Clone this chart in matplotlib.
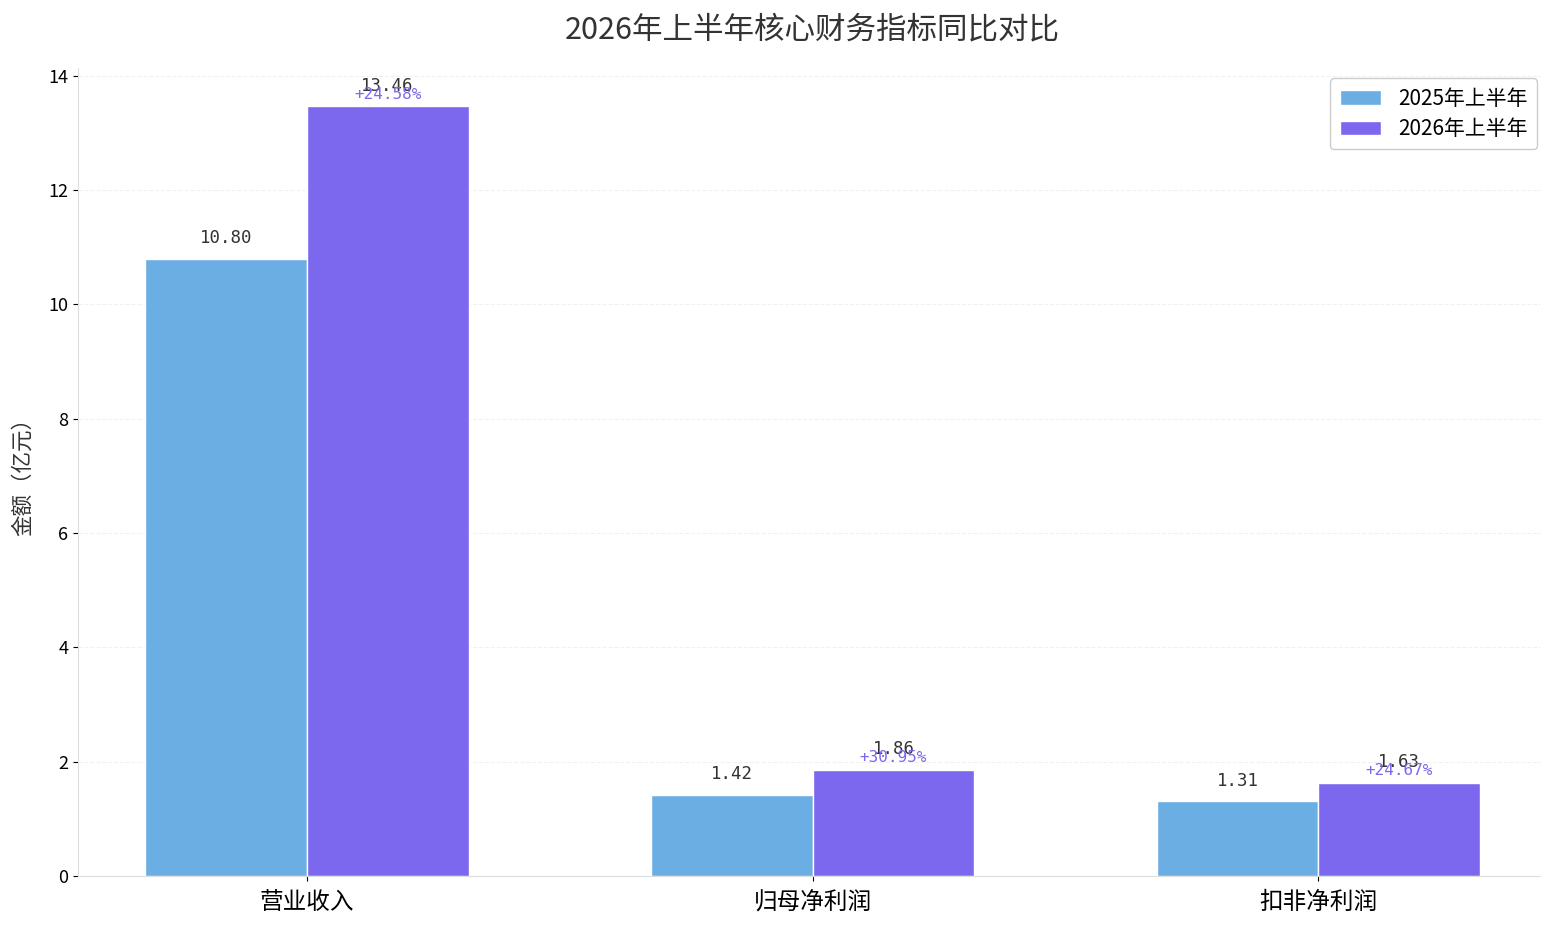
import numpy as np
import matplotlib
matplotlib.use('Agg')
import matplotlib.pyplot as plt

plt.rcParams['font.family'] = ['Noto Sans CJK SC', 'DejaVu Sans']
plt.rcParams['axes.unicode_minus'] = False

categories = ['营业收入', '归母净利润', '扣非净利润']
h1_2025 = [10.80, 1.42, 1.31]
h1_2026 = [13.46, 1.86, 1.63]
growth = ['+24.58%', '+30.95%', '+24.67%']
series_names = ['2025年上半年', '2026年上半年']

c_2025 = '#6aaee3'
c_2026 = '#7b68ee'
num_font = ['DejaVu Sans Mono', 'Noto Sans CJK SC']

fig, ax = plt.subplots(figsize=(15.41, 9.26), dpi=100)
x = np.arange(len(categories))
w = 0.32

b1 = ax.bar(x - w / 2, h1_2025, w, color=c_2025, edgecolor='white', linewidth=1, label=series_names[0])
b2 = ax.bar(x + w / 2, h1_2026, w, color=c_2026, edgecolor='white', linewidth=1, label=series_names[1])

# value labels
for rect, v in zip(b1, h1_2025):
    ax.text(rect.get_x() + rect.get_width() / 2, v + 0.2, f'{v:.2f}',
            ha='center', va='bottom', fontsize=12.5, color='#333333', family=num_font)
for rect, v, g in zip(b2, h1_2026, growth):
    cx = rect.get_x() + rect.get_width() / 2
    ax.text(cx, v + 0.2, f'{v:.2f}', ha='center', va='bottom', fontsize=12.5,
            color='#333333', family=num_font)
    # growth rate
    ax.text(cx, v + 0.08, g, ha='center', va='bottom', fontsize=11.5,
            color=c_2026, family=num_font)

ax.set_ylim(0, max(h1_2026) * 1.05)
ax.set_xticks(x)
ax.set_xticklabels(categories, fontsize=17)
ax.tick_params(axis='x', pad=7)
ax.tick_params(axis='y', labelsize=13)
ax.set_ylabel('金额（亿元）', fontsize=15.5, color='#333333', labelpad=10)
ax.set_title('2026年上半年核心财务指标同比对比', fontsize=22, color='#333333', pad=21)

ax.grid(axis='y', linestyle='--', color='#e8e8e8', alpha=0.6)
ax.set_axisbelow(True)
ax.spines['top'].set_visible(False)
ax.spines['right'].set_visible(False)
ax.spines['left'].set_color('#dddddd')
ax.spines['bottom'].set_color('#dddddd')

ax.legend(fontsize=15, loc='upper right', framealpha=1, edgecolor='#cccccc',
          labelspacing=0.4, borderpad=0.45)

plt.subplots_adjust(left=0.0506, right=1.004, top=0.9266, bottom=0.054)
plt.savefig('out.png', dpi=100)
